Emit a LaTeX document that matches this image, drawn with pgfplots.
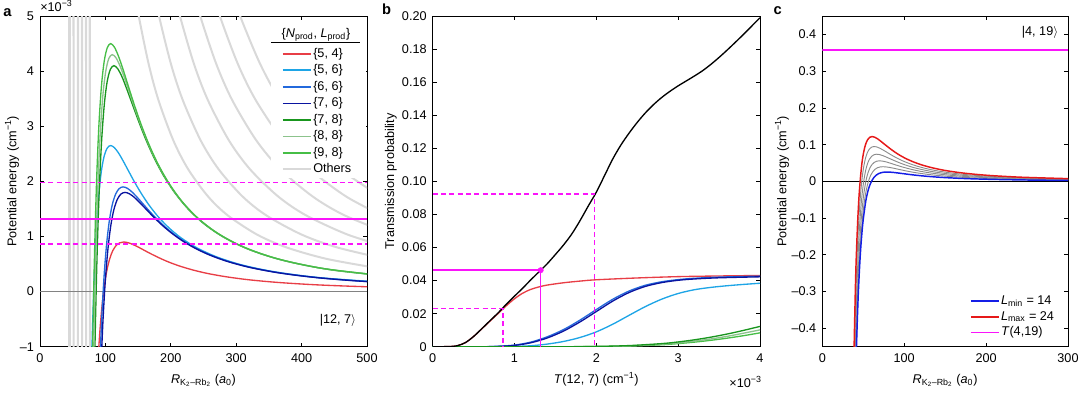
\documentclass[border=0pt]{standalone}
\usepackage{pgfplots}
\pgfplotsset{compat=1.18}
\usepackage{fontspec}
\setmainfont{Liberation Sans}

\definecolor{cred}{RGB}{232,62,70}
\definecolor{clblue}{RGB}{30,165,230}
\definecolor{cmblue}{RGB}{35,105,220}
\definecolor{cdblue}{RGB}{10,20,160}
\definecolor{cdgreen}{RGB}{25,150,30}
\definecolor{clgreen}{RGB}{140,195,140}
\definecolor{cgreen}{RGB}{70,190,70}
\definecolor{cgray}{RGB}{217,217,217}
\definecolor{cmag}{RGB}{250,20,250}
\definecolor{czero}{RGB}{130,130,130}
\definecolor{ccblue}{RGB}{20,30,230}
\definecolor{ccred}{RGB}{230,25,25}
\definecolor{ccgray}{RGB}{140,140,140}

\newcommand{\fs}{\fontsize{9.5}{11}\selectfont}

\pgfplotsset{
  myaxis/.style={
    scale only axis,
    anchor=south west,
    height=248pt,
    tick align=inside,
    major tick length=3pt,
    axis line style={line width=0.6pt},
    every tick/.style={black, line width=0.6pt},
    tick label style={font=\fs},
    xticklabel style={yshift=-1.5pt},
    yticklabel style={xshift=-1pt},
    every axis x label/.style={at={(axis description cs:0.5,-0.11)}, anchor=base, font=\fs},
    legend cell align=left,
    legend image code/.code={\draw[#1] (0pt,0pt) -- (21pt,0pt);},
  },
}

\begin{document}
\begin{tikzpicture}
\useasboundingbox (0,0) rectangle (810pt,294.75pt);

% ---------------- panel a ----------------
\begin{axis}[myaxis, at={(30pt,34.7pt)}, width=245.25pt,
  xmin=0, xmax=500, ymin=-1, ymax=5,
  xtick={0,100,200,300,400,500}, xticklabels={0,100,200,300,400,500},
  ytick={-1,0,1,2,3,4,5}, yticklabels={–1,0,1,2,3,4,5},
  xlabel={\textit{R}\textsubscript{K\textsubscript{2}–Rb\textsubscript{2}} (\textit{a}\textsubscript{0})},
  ylabel={Potential energy (cm\textsuperscript{−1})},
  every axis y label/.style={at={(axis description cs:-0.0856,0.5)}, anchor=center, rotate=90, font=\fs},
  legend style={at={(rel axis cs:0.739,0.909)}, anchor=north west, draw=none, fill=none,
    font=\fs, inner sep=0pt, row sep=1.4pt,
    nodes={inner sep=1pt, text height=7pt, text depth=2pt}},
]
\addlegendimage{cred, line width=1.2pt}\addlegendentry{\{5, 4\}}
\addlegendimage{clblue, line width=1.2pt}\addlegendentry{\{5, 6\}}
\addlegendimage{cmblue, line width=1.2pt}\addlegendentry{\{6, 6\}}
\addlegendimage{cdblue, line width=1.2pt}\addlegendentry{\{7, 6\}}
\addlegendimage{cdgreen, line width=1.2pt}\addlegendentry{\{7, 8\}}
\addlegendimage{clgreen, line width=1.2pt}\addlegendentry{\{8, 8\}}
\addlegendimage{cgreen, line width=1.2pt}\addlegendentry{\{9, 8\}}
\addlegendimage{cgray, line width=1.5pt}\addlegendentry{Others}

% steep walls of other channels
\addplot[cgray, line width=1.6pt, forget plot] coordinates {(45.1,-1.5) (45.1,5.5)};
\addplot[cgray, line width=1.6pt, forget plot] coordinates {(51.5,-1.5) (51.3,5.5)};
\addplot[cgray, line width=1.6pt, forget plot] coordinates {(57.8,-1.5) (58.1,5.5)};
\addplot[cgray, line width=1.6pt, forget plot] coordinates {(64.5,-1.5) (64.2,5.5)};
\addplot[cgray, line width=1.6pt, forget plot] coordinates {(70.6,-1.5) (70.4,5.5)};
\addplot[cgray, line width=1.6pt, forget plot] coordinates {(76.5,-1.5) (76.0,5.5)};
% other channels, right
\addplot[cgray, line width=1.5pt, smooth, forget plot] coordinates {(143.5,5.540) (151,5) (166.1,4.132) (181.2,3.472) (203.9,2.743) (226.5,2.222) (256.7,1.730) (286.9,1.385) (332.2,1.033) (377.5,0.800) (437.9,0.595) (513.4,0.4325)};
\addplot[cgray, line width=1.5pt, smooth, forget plot] coordinates {(172.9,5.540) (182,5) (200.2,4.132) (218.4,3.472) (245.7,2.743) (273,2.222) (309.4,1.730) (345.8,1.385) (400.4,1.033) (455,0.800) (527.8,0.595)};
\addplot[cgray, line width=1.5pt, smooth, forget plot] coordinates {(203.3,5.540) (214,5) (235.4,4.132) (256.8,3.472) (288.9,2.743) (321,2.222) (363.8,1.730) (406.6,1.385) (470.8,1.033) (535,0.800)};
\addplot[cgray, line width=1.5pt, smooth, forget plot] coordinates {(232.8,5.540) (245,5) (269.5,4.132) (294,3.472) (330.8,2.743) (367.5,2.222) (416.5,1.730) (465.5,1.385) (539,1.033)};
\addplot[cgray, line width=1.5pt, smooth, forget plot] coordinates {(261.3,5.540) (275,5) (302.5,4.132) (330,3.472) (371.3,2.743) (412.5,2.222) (467.5,1.730) (522.5,1.385)};
\addplot[cgray, line width=1.5pt, smooth, forget plot] coordinates {(290.7,5.540) (306,5) (336.6,4.132) (367.2,3.472) (413.1,2.743) (459,2.222) (520.2,1.730)};

\addplot[czero, line width=1.3pt, forget plot] coordinates {(0,0) (500,0)};

% {5,4}
\addplot[cred, line width=1pt, smooth, forget plot] coordinates {(85.3,-2.088) (88.3,-1.344) (91.4,-0.742) (94.8,-0.264) (98.5,0.109) (102.4,0.393) (106.7,0.600) (111.3,0.744) (116.4,0.836) (121.9,0.885) (128,0.9) (134.7,0.888) (142.2,0.854) (150.6,0.806) (160,0.746) (170.7,0.679) (182.9,0.609) (196.9,0.536) (213.3,0.465) (232.7,0.396) (256,0.330) (284.4,0.270) (320,0.214) (365.7,0.165) (426.7,0.121) (512,0.084) (640,0.054)};
% {5,6}
\addplot[clblue, line width=1pt, smooth, forget plot] coordinates {(74.5,-3.957) (77.1,-2.186) (80.0,-0.776) (83.1,0.322) (86.4,1.156) (90.0,1.768) (93.9,2.192) (98.2,2.462) (102.9,2.607) (108,2.65) (113.7,2.613) (120,2.516) (127.1,2.372) (135,2.197) (144,2.000) (154.3,1.792) (166.2,1.579) (180,1.369) (196.4,1.166) (216,0.973) (240,0.794) (270,0.631) (308.6,0.484) (360,0.357) (432,0.248) (540,0.159)};
% {6,6}
\addplot[cmblue, line width=1pt, smooth, forget plot] coordinates {(84.7,-4.409) (87.6,-2.837) (90.7,-1.567) (94.1,-0.557) (97.7,0.231) (101.6,0.829) (105.8,1.267) (110.4,1.572) (115.5,1.765) (121.0,1.869) (127,1.9) (133.7,1.874) (141.1,1.804) (149.4,1.701) (158.8,1.575) (169.3,1.434) (181.4,1.285) (195.4,1.132) (211.7,0.982) (230.9,0.836) (254,0.698) (282.2,0.569) (317.5,0.452) (362.9,0.347) (423.3,0.256) (508,0.178) (635,0.114)};
% {7,6}
\addplot[cdblue, line width=1pt, smooth, forget plot] coordinates {(86.7,-4.177) (89.7,-2.688) (92.9,-1.485) (96.3,-0.527) (100,0.219) (104,0.786) (108.3,1.201) (113.0,1.489) (118.2,1.673) (123.8,1.771) (130,1.8) (136.8,1.775) (144.4,1.709) (152.9,1.611) (162.5,1.492) (173.3,1.359) (185.7,1.217) (200,1.073) (216.7,0.930) (236.4,0.792) (260,0.661) (288.9,0.539) (325,0.428) (371.4,0.329) (433.3,0.242) (520,0.168) (650,0.108)};
% {7,8}
\addplot[cdgreen, line width=1pt, smooth, forget plot] coordinates {(77.9,-6.123) (80.7,-3.382) (83.7,-1.201) (86.9,0.499) (90.4,1.789) (94.2,2.735) (98.3,3.392) (102.7,3.810) (107.6,4.033) (113,4.1) (118.9,4.043) (125.6,3.892) (132.9,3.670) (141.3,3.398) (150.7,3.095) (161.4,2.772) (173.8,2.444) (188.3,2.118) (205.5,1.804) (226,1.506) (251.1,1.228) (282.5,0.976) (322.9,0.749) (376.7,0.552) (452,0.384) (565,0.246)};
% {8,8}
\addplot[clgreen, line width=1pt, smooth, forget plot] coordinates {(76.2,-6.421) (78.9,-3.547) (81.9,-1.260) (85.0,0.523) (88.4,1.877) (92.1,2.868) (96.1,3.557) (100.5,3.996) (105.2,4.230) (110.5,4.3) (116.3,4.241) (122.8,4.082) (130,3.849) (138.1,3.564) (147.3,3.246) (157.9,2.908) (170,2.563) (184.2,2.222) (200.9,1.892) (221,1.579) (245.6,1.288) (276.3,1.023) (315.7,0.786) (368.3,0.579) (442,0.402) (552.5,0.258)};
% {9,8}
\addplot[cgreen, line width=1pt, smooth, forget plot] coordinates {(74.5,-6.720) (77.1,-3.712) (80.0,-1.319) (83.1,0.547) (86.4,1.964) (90.0,3.002) (93.9,3.722) (98.2,4.181) (102.9,4.427) (108,4.5) (113.7,4.438) (120,4.272) (127.1,4.028) (135,3.730) (144,3.397) (154.3,3.043) (166.2,2.682) (180,2.325) (196.4,1.980) (216,1.652) (240,1.348) (270,1.071) (308.6,0.823) (360,0.606) (432,0.421) (540,0.270)};

% energies
\addplot[cmag, line width=1.1pt, forget plot] coordinates {(0,1.32) (500,1.32)};
\addplot[cmag, line width=1.1pt, dash pattern=on 3.75pt off 2.5pt, forget plot] coordinates {(0,1.98) (500,1.98)};
\addplot[cmag, line width=1.1pt, dash pattern=on 3.75pt off 2.5pt, forget plot] coordinates {(0,0.86) (500,0.86)};

\fill[white] (rel axis cs:0.706,0.51) rectangle (rel axis cs:0.997,0.975);
\node[font=\fs] at (rel axis cs:0.844,0.9425) {\{\textit{N}\textsubscript{prod}, \textit{L}\textsubscript{prod}\}};
\draw[line width=0.6pt] (rel axis cs:0.706,0.9205) -- (rel axis cs:0.979,0.9205);
\node[font=\fs] at (rel axis cs:0.911,0.081) {|12, 7$\rangle$};
\end{axis}

% ---------------- panel b ----------------
\begin{axis}[myaxis, at={(324.5pt,34.7pt)}, width=245.5pt,
  xmin=0, xmax=4, ymin=0, ymax=0.2,
  xtick={0,1,2,3,4}, xticklabels={0,1,2,3,4},
  ytick={0,0.02,0.04,0.06,0.08,0.10,0.12,0.14,0.16,0.18,0.20},
  yticklabels={0,0.02,0.04,0.06,0.08,0.10,0.12,0.14,0.16,0.18,0.20},
  xlabel={\textit{T}(12, 7) (cm\textsuperscript{−1})},
  ylabel={Transmission probability},
  every axis y label/.style={at={(axis description cs:-0.1274,0.5)}, anchor=center, rotate=90, font=\fs},
]
\addplot[cred, line width=1pt, smooth] coordinates {(0,0) (0.2,0.0001) (0.3,0.0006) (0.4,0.0025) (0.5,0.0062) (0.6,0.0108) (0.7,0.0155) (0.8,0.0201) (0.9,0.0248) (1.0,0.0290) (1.1,0.0324) (1.2,0.0347) (1.3,0.0362) (1.4,0.0373) (1.6,0.0387) (1.8,0.0397) (2.0,0.0405) (2.5,0.0416) (3.0,0.0424) (3.5,0.0428) (4.0,0.0431)};
\addplot[clblue, line width=1pt, smooth] coordinates {(0,0) (0.8,0) (1.0,0.0002) (1.2,0.0006) (1.4,0.0016) (1.6,0.0032) (1.8,0.0056) (2.0,0.0090) (2.2,0.0136) (2.4,0.0190) (2.6,0.0243) (2.8,0.0288) (3.0,0.0322) (3.2,0.0345) (3.4,0.0359) (3.6,0.0369) (3.8,0.0377) (4.0,0.0384)};
\addplot[cmblue, line width=1pt, smooth] coordinates {(0,0) (0.6,0) (0.8,0.0003) (1.0,0.0010) (1.2,0.0028) (1.4,0.0060) (1.6,0.0104) (1.8,0.0161) (2.0,0.0225) (2.2,0.0287) (2.4,0.0337) (2.6,0.0372) (2.8,0.0393) (3.0,0.0406) (3.2,0.0414) (3.5,0.0421) (4.0,0.0427)};
\addplot[cdblue, line width=1pt, smooth] coordinates {(0,0) (0.6,0) (0.8,0.0002) (1.0,0.0008) (1.2,0.0024) (1.4,0.0053) (1.6,0.0095) (1.8,0.0150) (2.0,0.0213) (2.2,0.0276) (2.4,0.0328) (2.6,0.0365) (2.8,0.0388) (3.0,0.0402) (3.2,0.0410) (3.5,0.0417) (4.0,0.0423)};
\addplot[cgreen, line width=1pt, smooth] coordinates {(0,0) (1.5,0) (2.0,0.0001) (2.4,0.0004) (2.8,0.0012) (3.0,0.0019) (3.2,0.0028) (3.4,0.0039) (3.6,0.0052) (3.8,0.0067) (4.0,0.0084)};
\addplot[clgreen, line width=1pt, smooth] coordinates {(0,0) (1.5,0) (2.0,0.0001) (2.4,0.0005) (2.8,0.0015) (3.0,0.0023) (3.2,0.0034) (3.4,0.0047) (3.6,0.0063) (3.8,0.0082) (4.0,0.0102)};
\addplot[cdgreen, line width=1pt, smooth] coordinates {(0,0) (1.5,0) (2.0,0.0002) (2.4,0.0007) (2.8,0.0019) (3.0,0.0029) (3.2,0.0042) (3.4,0.0058) (3.6,0.0077) (3.8,0.0099) (4.0,0.0123)};
\addplot[black, line width=1pt, smooth] coordinates {(0,0) (0.2,0.0001) (0.3,0.0006) (0.4,0.0025) (0.5,0.0062) (0.6,0.0109) (0.7,0.0157) (0.8,0.0205) (0.9,0.0257) (1.0,0.0306) (1.1,0.0354) (1.2,0.0405) (1.32,0.0463) (1.4,0.0502) (1.5,0.0558) (1.6,0.0616) (1.7,0.0682) (1.8,0.0762) (1.9,0.0850) (2.0,0.0935) (2.1,0.1035) (2.2,0.1135) (2.3,0.1220) (2.4,0.1292) (2.5,0.1357) (2.6,0.1415) (2.7,0.1465) (2.8,0.1508) (2.9,0.1545) (3.0,0.1578) (3.1,0.1608) (3.2,0.1638) (3.3,0.1670) (3.4,0.1708) (3.5,0.1750) (3.6,0.1795) (3.7,0.1842) (3.8,0.1890) (3.9,0.1940) (4.0,0.1990)};
\addplot[cmag, line width=1.1pt, dash pattern=on 3.75pt off 2.5pt] coordinates {(0,0.0923) (1.98,0.0923) (1.98,0)};
\addplot[cmag, line width=1.1pt, dash pattern=on 3.75pt off 2.5pt] coordinates {(0,0.0232) (0.86,0.0232) (0.86,0)};
\addplot[cmag, line width=1.1pt] coordinates {(0,0.0463) (1.32,0.0463) (1.32,0)};
\addplot[cmag, only marks, mark=*, mark size=2pt] coordinates {(1.32,0.0463)};
\end{axis}

% ---------------- panel c ----------------
\begin{axis}[myaxis, at={(616.7pt,34.7pt)}, width=184.3pt,
  xmin=0, xmax=300, ymin=-0.45, ymax=0.45,
  xtick={0,100,200,300}, xticklabels={0,100,200,300},
  ytick={-0.4,-0.3,-0.2,-0.1,0,0.1,0.2,0.3,0.4},
  yticklabels={–0.4,–0.3,–0.2,–0.1,0,0.1,0.2,0.3,0.4},
  xlabel={\textit{R}\textsubscript{K\textsubscript{2}–Rb\textsubscript{2}} (\textit{a}\textsubscript{0})},
  ylabel={Potential energy (cm\textsuperscript{−1})},
  every axis y label/.style={at={(axis description cs:-0.164,0.5)}, anchor=center, rotate=90, font=\fs},
  legend style={at={(rel axis cs:0.601,0.161)}, anchor=north west, draw=none, fill=none,
    font=\fs, inner sep=0pt, row sep=0.8pt,
    nodes={inner sep=1pt, text height=7pt, text depth=2pt}},
]
\addlegendimage{ccblue, line width=1.1pt}\addlegendentry{\textit{L}\textsubscript{min} = 14}
\addlegendimage{ccred, line width=1.1pt}\addlegendentry{\textit{L}\textsubscript{max} = 24}
\addlegendimage{cmag, line width=1.1pt}\addlegendentry{\textit{T}(4,19)}

\addplot[black, line width=0.5pt, forget plot] coordinates {(0,0) (300,0)};
% L = 16
\addplot[ccgray, line width=0.7pt, smooth, forget plot] coordinates {(39.0,-0.724) (41.2,-0.486) (43.6,-0.309) (46.3,-0.182) (49.4,-0.0928) (51.1,-0.0597) (52.9,-0.0330) (54.9,-0.0117) (57.0,0.0049) (59.3,0.0175) (61.8,0.0267) (64.4,0.0331) (67.4,0.0372) (70.6,0.0393) (74.1,0.04) (78.0,0.0394) (82.3,0.0380) (87.2,0.0358) (92.6,0.0332) (98.8,0.0302) (105.9,0.0270) (114,0.0238) (123.5,0.0207) (134.7,0.0176) (148.2,0.0147) (164.7,0.0120) (185.3,0.0095) (211.7,0.0073) (247,0.0054) (296.4,0.0037) (370.5,0.0024)};
% L = 18
\addplot[ccgray, line width=0.7pt, smooth, forget plot] coordinates {(36.8,-1.014) (38.9,-0.680) (41.2,-0.433) (43.75,-0.255) (46.7,-0.130) (48.3,-0.0836) (50,-0.0462) (51.9,-0.0164) (53.8,0.0068) (56,0.0244) (58.3,0.0374) (60.9,0.0463) (63.6,0.0520) (66.7,0.0551) (70,0.056) (73.7,0.0552) (77.8,0.0532) (82.4,0.0501) (87.5,0.0464) (93.3,0.0423) (100,0.0379) (107.7,0.0334) (116.7,0.0289) (127.3,0.0246) (140,0.0206) (155.6,0.0168) (175,0.0133) (200,0.0102) (233.3,0.0075) (280,0.0052) (350,0.0034)};
% L = 20
\addplot[ccgray, line width=0.7pt, smooth, forget plot] coordinates {(36.9,-0.899) (39.1,-0.572) (41.6,-0.337) (44.3,-0.172) (45.9,-0.1105) (47.5,-0.0611) (49.3,-0.0217) (51.2,0.0090) (53.2,0.0323) (55.4,0.0494) (57.8,0.0612) (60.5,0.0688) (63.3,0.0728) (66.5,0.074) (70,0.0730) (73.9,0.0702) (78.2,0.0662) (83.1,0.0613) (88.7,0.0559) (95,0.0500) (102.3,0.0441) (110.8,0.0382) (120.9,0.0326) (133,0.0272) (147.8,0.0222) (166.3,0.0176) (190,0.0135) (221.7,0.0100) (266,0.0069) (332.5,0.0044)};
% L = 22
\addplot[ccgray, line width=0.7pt, smooth, forget plot] coordinates {(35.2,-1.154) (37.3,-0.735) (39.6,-0.432) (42.3,-0.220) (43.7,-0.1418) (45.3,-0.0784) (47.0,-0.0278) (48.8,0.0116) (50.7,0.0415) (52.8,0.0634) (55.1,0.0786) (57.6,0.0883) (60.4,0.0935) (63.4,0.095) (66.7,0.0937) (70.4,0.0902) (74.6,0.0850) (79.3,0.0787) (84.5,0.0717) (90.6,0.0642) (97.5,0.0566) (105.7,0.0491) (115.3,0.0418) (126.8,0.0349) (140.9,0.0285) (158.5,0.0226) (181.1,0.0174) (211.3,0.0128) (253.6,0.0089) (317,0.0057)};
% L = 14
\addplot[ccblue, line width=1.1pt, smooth, forget plot] coordinates {(39.5,-0.663) (41.6,-0.462) (43.9,-0.310) (46.5,-0.197) (49.4,-0.116) (52.7,-0.0592) (54.5,-0.0381) (56.4,-0.0210) (58.5,-0.0075) (60.8,0.0031) (63.2,0.0111) (65.8,0.0170) (68.7,0.0211) (71.8,0.0237) (75.2,0.0251) (79,0.0255) (83.2,0.0251) (87.8,0.0242) (92.9,0.0228) (98.8,0.0211) (105.3,0.0192) (112.9,0.0172) (121.5,0.0152) (131.7,0.0132) (143.6,0.0112) (158,0.0094) (175.6,0.0076) (197.5,0.0061) (225.7,0.0047) (263.3,0.0034) (316,0.0024)};
% L = 24
\addplot[ccred, line width=1.1pt, smooth, forget plot] coordinates {(33.8,-1.482) (35.8,-0.944) (38.0,-0.555) (40.5,-0.283) (41.9,-0.182) (43.4,-0.1007) (45.0,-0.0357) (46.8,0.0148) (48.6,0.0532) (50.7,0.0814) (52.9,0.1009) (55.3,0.1134) (57.9,0.1200) (60.8,0.122) (64.0,0.1203) (67.6,0.1158) (71.5,0.1092) (76.0,0.1011) (81.1,0.0921) (86.9,0.0825) (93.5,0.0727) (101.3,0.0630) (110.5,0.0537) (121.6,0.0448) (135.1,0.0366) (152,0.0290) (173.7,0.0223) (202.7,0.0164) (243.2,0.0114) (304,0.0073)};
\addplot[cmag, line width=1.1pt, forget plot] coordinates {(0,0.358) (300,0.358)};
\node[font=\fs] at (rel axis cs:0.886,0.951) {|4, 19$\rangle$};
\end{axis}

% panel letters and multipliers
\node[font=\fontsize{11}{12}\selectfont\bfseries, anchor=base west, inner sep=0pt] at (2.25pt,282.2pt) {a};
\node[font=\fontsize{11}{12}\selectfont\bfseries, anchor=base west, inner sep=0pt] at (286.3pt,283.5pt) {b};
\node[font=\fontsize{11}{12}\selectfont\bfseries, anchor=base west, inner sep=0pt] at (580pt,283.5pt) {c};
\node[font=\fs, anchor=base west, inner sep=0pt] at (30pt,286pt) {×10\textsuperscript{−3}};
\node[font=\fs, anchor=base east, inner sep=0pt] at (571.5pt,4pt) {×10\textsuperscript{−3}};
\end{tikzpicture}
\end{document}
